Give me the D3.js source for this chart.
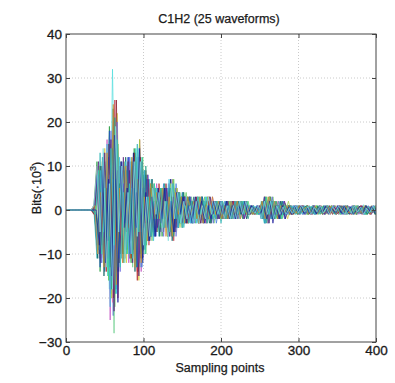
<!DOCTYPE html>
<html>
<head>
<meta charset="utf-8">
<script src="https://cdn.jsdelivr.net/npm/d3@7"></script>
<style>
  body { margin: 0; background: #fff; }
  svg { display: block; font-family: "Liberation Sans", Arial, sans-serif; }
</style>
</head>
<body>
<svg id="chart" width="395" height="383"></svg>
<script>
// tick labels
const xTicks = [0, 100, 200, 300, 400];
const yTicks = [-30, -20, -10, 0, 10, 20, 30, 40];

// one value every 4 sampling points (units of 10^3 bits)
const sampleStep = 4;
const waveforms = [
  [0,0,0,0,0,0,0,0,0, 1,-8,6,-12,9,-18,32,-10,11,-6, 9,-4,12,-10,7,-13,8,-3,6,-5, 2,-4,5,-3,6,-2,4,-3,2,-3, 3,-1,2,-3,1,-2,3,-1,2,-1, 2,-1,1,-2,2,-1,1,-2,1,-1, 1,-0.5,0.8,-1,2,-3,1,-2,2,-1, 1.5,-1,0.5,-1.2,0.8,-0.6,1,-0.4,0.8,-1, 0.6,-0.8,1,-0.3,0.7,0,0.9,-1,0.5,-0.7, 1,-0.4,0.2,0.8,-1,0.6,-0.5,1.2,-0.8,0.4, -0.6,0],
  [0,0,0,0,0,0,0,0,0, -1,10,-5,13,-8,15,-24,9,-12,4, -6,12,-7,13,-10,5,-8,4,-6,2, -4,3,-5,2,-6,7,-2,4,-1,3, -2,3,-1,3,-2,1,-3,2,-1,2, -2,1,-2,2,-1,2,-1,0.5,-2,1, -1,0.6,-1,0.4,-2,2,-3,1,-2,1, -1,2,-0.5,1,-0.8,1,-1,0.4,-1,0.7, -0.4,1,-0.8,0.5,-1,0.8,-0.3,1,0,-0.6, 0.9,-1,0.5,-0.7,1,-0.4,0.6,-1,0.8,-0.5, 1,0],
  [0,0,0,0,0,0,0,0,0, 0,6,-11,8,-13,11,-28,17,-5,10, -9,5,-13,8,-13,6,-9,6,-3,6, -5,2,-5,4,-3,6,-5,2,-4,3, -1,3,-2,1,-3,2,-1,3,-2,1, -2,2,-1,2,-2,1,-1,2,-1,1, -0.5,1,-1,0.6,-1,2,-3,2,-1,2, -2,1,-1,0.4,-1,1,-0.6,0,1,-0.8, 0.5,-1,1,-0.6,0.8,-0.4,1,-0.9,0.3,-1, 0,0.7,-1,1,-0.5,0.8,-1,0.4,-0.6,1, -0.8,0.5],
  [0,0,0,0,0,0,0,0,0, -1,-7,11,-6,15,-9,25,-20,8,-11, 6,-9,4,-12,16,-5,9,-8,3,-6, 5,-2,4,-6,3,-7,5,-1,3,-2, 3,-2,1,-3,2,-1,3,-3,1,-2, 1,-2,1,-1,2,-2,1,-1,2,-1, 1,-0.6,0.7,-1,1,-2,3,-2,1,-2, 1,-2,0.6,-1,1,-0.5,0.8,-1,0.4,-0.7, 1,-0.5,0.6,-1,0,0.8,-0.6,1,-0.3,0.7, -1,0.5,-0.8,1,-0.4,0.9,-1,0.6,-0.5,1, -0.7,0],
  [0,0,0,0,0,0,0,0,0, 1,11,-14,5,-12,19,-7,18,-12,4, -11,3,-12,14,-6,11,-9,3,-6,6, -2,4,-6,3,-5,2,-4,4,-1,4, -3,1,-3,2,-1,3,-2,1,-2,2, -1,2,-2,1,-2,0.5,-1,2,-2,1, -1,0.5,-0.8,1,-2,1,-2,3,-1,1, -2,0.6,-1,1,-0.4,1,-0.8,0.6,0,-1, 0.8,-0.6,1,-1,0.4,-0.8,1,-0.3,0.6,-1, 0.5,-1,0.8,-0.4,1,0,-0.9,0.6,-1,0.7, -0.5,1],
  [0,0,0,0,0,0,0,0,0, 0,-9,4,-11,16,-25,9,-16,10,-5, 10,-12,5,-9,12,-14,4,-7,6,-2, 6,-5,2,-4,6,-3,5,-4,1,-3, 2,-3,1,-2,3,-3,1,-2,3,-1, 2,-1,2,-2,1,-2,0.5,-2,1,-2, 0.6,-1,0.4,-1,1,-3,1,-2,2,-1, 2,-1,0.5,-1,1,-0.6,1,-1,0.4,-0.8, 0,1,-0.6,0.8,-1,0.4,-0.7,1,-0.5,0.6, -1,0.8,-0.3,1,-0.7,0.5,-1,0,0.9,-0.6, 1,-0.5],
  [0,0,0,0,0,0,0,0,0, 1,8,-10,14,-5,15,-18,22,-6,9, -12,5,-10,12,-16,9,-3,7,-5,2, -4,5,-2,4,-5,7,-1,4,-4,2, -3,2,-2,3,-1,2,-3,1,-2,2, -1,2,-2,1,-2,2,-1,2,-0.5,1, -1,0.4,-0.7,1,-1,3,-2,1,-1,2, -1,1,-2,0.6,-1,0.8,-0.4,1,-1,0.5, -0.8,1,-0.5,0,0.7,-1,0.9,-0.4,1,-0.8, 0.4,-1,0.7,-0.6,1,-0.9,0.3,-1,0.8,-0.4, 0,0.8],
  [0,0,0,0,0,0,0,0,0, -1,-10,9,-4,12,-17,11,-14,5,-9, 9,-3,13,-11,6,-12,8,-2,7,-5, 1,-5,5,-2,7,-5,2,-3,4,-1, 3,-2,1,-3,3,-1,2,-3,1,-2, 2,-1,1,-2,2,-1,2,-1,1,-1, 0.8,-1,0.5,-0.8,2,-1,3,-2,1,-2, 2,-1,1,-0.4,0.8,-1,0.6,-0.8,1,-0.3, 1,-0.7,0.4,-1,0.8,-0.5,1,-0.6,0.7,0, -0.8,1,-0.5,0.6,-1,0.8,-0.4,1,-0.7,0.5, -1,0.6],
  [0,0,0,0,0,0,0,0,0, 0,-11,13,-9,11,-16,14,-19,4,-11, 4,-9,11,-5,15,-10,3,-8,7,-3, 5,-6,1,-4,5,-6,2,-4,3,-4, 1,-3,2,-1,3,-2,1,-2,2,-1, 2,-3,1,-2,1,-2,2,-1,2,-1, 1,-0.7,0.5,-1,1,-3,2,-1,2,-0.5, 2,-1,0.8,-1,0.5,-1,0.7,-0.4,1,-0.8, 0.6,-1,0.3,-0.8,1,-0.5,0,0.9,-0.7,1, -0.6,0.4,-1,0.8,-0.5,1,-0.3,0.7,-1,0.6, -0.4,0.8],
  [0,0,0,0,0,0,0,0,0, 1,7,-12,11,-6,14,-20,25,-11,5, -9,11,-4,13,-14,4,-7,8,-2,5, -5,1,-5,6,-2,5,-5,3,-1,3, -3,2,-1,2,-3,1,-2,3,-1,2, -1,2,-1,2,-2,1,-2,1,-1,2, -0.6,1,-0.8,0.5,-1,3,-1,2,-2,1, -1,1,-0.6,1,-1,0.4,-0.8,1,-0.5,0.7, -1,0.6,-0.4,1,-0.8,0.5,-1,0.3,-0.6,1, -0.9,0,0.8,-1,0.5,-0.7,1,-0.4,0.6,-1, 0.7,-0.3],
  [0,0,0,0,0,0,0,0,0, -1,-9,8,-14,6,-19,16,-7,10,-12, 5,-11,10,-4,12,-13,5,-7,2,-6, 5,-2,6,-4,2,-5,6,-1,4,-3, 1,-3,2,-2,1,-3,3,-1,2,-3, 1,-2,2,-1,2,-2,1,-1,2,-1, 1,-0.5,1,-0.6,0.8,-2,3,-1,2,-2, 0.6,-2,1,-0.5,1,-0.8,0.4,-1,0.7,-0.5, 1,0,-0.8,0.6,-1,0.4,-0.7,1,-0.5,0.8, -1,0.6,-0.4,1,-0.8,0.3,0,-1,0.7,-0.6, 0.9,-0.7],
  [0,0,0,0,0,0,0,0,0, 0,10,-6,9,-16,7,-22,15,-4,11, -10,4,-9,11,-5,12,-10,3,-7,5, -2,5,-4,1,-5,7,-3,4,-1,4, -2,1,-3,3,-1,3,-2,1,-3,2, -2,1,-2,2,-1,1,-2,2,-1,2, -1,0.5,-1,0.7,-2,3,-1,3,-2,1, -2,1.5,-0.6,1,-0.5,1,-0.8,0.6,-1,0.4, -0.7,1,-0.4,0.8,-1,0.6,-0.5,1,-0.8,0.3, 0,-1,0.6,-0.7,1,-0.5,0.8,-1,0.4,-0.6, 1,0],
  [0,0,0,0,0,0,0,0,0, 1,9,-4,12,-13,8,-21,16,-11,3, -11,10,-5,10,-14,4,-8,6,-2,6, -5,3,-5,1,-6,6,-2,4,-3,1, -3,3,-1,2,-3,1,-3,3,-1,2, -2,1,-1,2,-2,2,-1,2,-1,1, -1,0.8,-0.5,1,-1,2,-3,1,-2,2, -1,0.6,-1,1,-0.4,0.8,-1,0.5,-0.7,1, -0.5,0.9,-1,0.4,0,-0.8,1,-0.6,0.7,-1, 0.8,-0.5,1,-0.7,0.4,-1,0.6,-0.3,0,0.9, -0.6,1],
  [0,0,0,0,0,0,0,0,0, -1,-11,10,-15,5,-13,23,-18,6,-10, 12,-3,11,-14,6,-11,9,-3,5,-6, 2,-6,5,-2,5,-7,1,-4,3,-2, 3,-1,3,-2,1,-3,2,-3,1,-2, 1,-2,1,-2,2,-1,2,-1,2,-2, 0.7,-1,0.5,-1,2,-3,1,-2,1,-2, 2,-1,0.7,-1,0.5,-0.8,1,-0.4,0.9,-1, 0.6,-1,0.8,-0.5,1,-0.7,0.3,0,-1,0.8, -0.5,1,-0.9,0.4,-0.6,1,-0.8,0.5,-1,0.7, 0,-0.9],
  [0,0,0,0,0,0,0,0,0, 0,8,-12,5,-11,18,-9,20,-14,6, -9,12,-6,12,-12,5,-9,8,-3,5, -4,2,-6,5,-2,6,-6,1,-4,3, -2,1,-3,3,-1,2,-2,1,-3,2, -1,2,-2,1,-1,2,-2,1,-2,1, -0.8,1,-0.6,1,-2,1,-2,3,-1,2, -1,0.5,-1,0.8,-0.6,1,-0.5,1,-0.8,0, 0.7,-1,0.5,-0.6,1,-0.9,0.4,-0.8,1,-0.5, 0.6,-1,0.9,-0.4,0.7,-1,0.5,-0.6,1,-0.8, 0.4,-1],
  [0,0,0,0,0,0,0,0,0, 1,-8,11,-11,6,-20,18,-7,11,-12, 4,-11,12,-6,16,-10,4,-7,6,-2, 5,-4,2,-6,6,-2,5,-4,1,-3, 2,-2,1,-3,3,-1,3,-2,1,-2, 2,-1,2,-2,1,-2,1,-1,2,-1, 0.5,-1,0.8,-0.6,2,-2,3,-1,2,-2, 1,-0.6,2,-1,0.5,-1,0.8,-0.7,1,-0.4, 1,-0.6,0.8,-1,0.3,-0.7,1,-0.5,0.6,-1, 0,0.8,-0.6,1,-1,0.4,-0.7,1,-0.5,0.6, -1,0.7],
  [0,0,0,0,0,0,0,0,0, -1,10,-11,4,-14,15,-8,14,-12,9, -4,11,-11,5,-16,12,-3,7,-7,2, -5,6,-1,5,-5,3,-5,4,-1,3, -3,1,-2,3,-3,1,-2,2,-1,2, -2,1,-2,2,-1,2,-2,1,-1,2, -1,0.4,-1,0.8,-1,3,-2,1,-2,1, -2,1,-0.5,1,-1,0.7,-0.6,1,-0.4,1, -1,0.5,-0.8,1,-0.6,0,0.9,-1,0.4,-0.7, 1,-0.6,0.5,-1,0.8,-0.4,1,-0.7,0.6,-1, 0.8,0],
  [0,0,0,0,0,0,0,0,0, 0,-10,9,-5,15,-22,7,-19,12,-4, 11,-10,5,-11,14,-5,9,-6,2,-7, 5,-2,5,-4,7,-2,4,-4,1,-3, 2,-3,1,-3,2,-1,3,-2,1,-2, 2,-1,2,-1,2,-1,1,-2,2,-1, 1,-0.6,0.8,-1,1,-3,1,-2,2,-1, 1,-0.8,1,-0.5,1,-1,0.6,-1,0.7,-0.4, 0.9,-1,0,0.8,-0.6,1,-0.4,0.7,-1,0.5, -0.8,1,-0.5,0.6,-1,0.9,-0.4,0.8,-0.6,0, 1,-0.8],
  [0,0,0,0,0,0,0,0,0, 1,11,-8,13,-7,16,-23,9,-10,12, -5,9,-12,4,-15,11,-3,7,-6,2, -4,5,-2,5,-6,3,-4,4,-3,1, -3,2,-1,2,-3,1,-3,3,-1,2, -2,1,-2,1,-2,2,-1,2,-2,1, -1,0.7,-0.5,1,-2,1,-3,2,-1,1, -1,2,-0.6,1,-0.8,0.5,-1,1,-0.5,0.8, -1,0.6,-0.8,0.4,-1,1,-0.5,0.7,-0.9,1, -0.6,0.8,-1,0,0.7,-0.5,1,-0.8,0.4,-1, 0.6,-0.5],
  [0,0,0,0,0,0,0,0,0, -1,-9,12,-10,5,-18,21,-13,6,-10, 9,-5,10,-13,4,-9,10,-3,7,-5, 2,-4,6,-2,5,-6,2,-3,4,-1, 3,-3,1,-2,3,-2,1,-3,2,-1, 2,-1,2,-2,1,-2,2,-1,1,-2, 1,-0.8,0.6,-1,2,-3,1,-2,2,-1, 2,-1,1,-0.6,0.8,-1,0.5,-0.7,1,-0.5, 0.7,-1,0.5,-0.8,1,-0.4,0.6,-1,0,0.9, -0.7,1,-0.5,0.8,-1,0.6,-0.3,1,-0.8,0.5, -1,0.7],
  [0,0,0,0,0,0,0,0,0, 0,8,-13,12,-5,18,-16,7,-11,11, -3,12,-10,5,-13,10,-4,7,-7,2, -6,4,-2,5,-6,2,-5,4,-1,3, -1,3,-3,2,-1,3,-2,1,-2,2, -2,2,-1,2,-2,1,-2,2,-1,2, -0.5,1,-0.7,0.6,-2,3,-1,2,-2,1, -2,0.8,-1,0.5,-1,1,-0.6,0.8,-1,0.4, -0.6,1,-0.9,0.5,-0.7,1,-0.4,0.8,-1,0.6, -1,0.4,0,-0.8,1,-0.6,0.7,-1,0.5,-0.4, 0.9,-0.6],
  [0,0,0,0,0,0,0,0,0, 1,-10,4,-13,13,-6,24,-17,5,-12, 10,-4,12,-13,7,-12,3,-7,6,-2, 4,-2,5,-6,3,-6,4,-1,3,-3, 3,-1,2,-2,3,-3,1,-2,3,-1, 2,-2,1,-2,2,-1,2,-2,1,-1, 0.8,-1,0.5,-0.7,2,-2,3,-1,2,-2, 1,-0.7,1,-1,0.4,-0.8,1,-0.5,0.7,-1, 0,0.8,-1,0.5,-0.6,1,-0.8,0.4,-1,0.6, -0.5,1,-0.7,0.4,-1,0.8,-0.6,1,0,-0.9, 0.6,0],
  [0,0,0,0,0,0,0,0,0, -1,9,-10,5,-15,14,-8,16,-13,4, -10,6,-11,14,-5,12,-10,3,-6,6, -2,5,-4,2,-5,6,-2,4,-4,1, -3,2,-2,3,-1,2,-3,1,-2,2, -1,2,-2,1,-2,2,-1,2,-1,2, -0.6,1,-1,0.5,-2,3,-1,2,-2,1, -2,1,-0.5,1,-0.7,0.6,-1,0.8,-0.4,1, -0.8,0.5,-1,0.7,-0.4,1,0,-0.8,0.6,-1, 1,-0.7,0.5,-1,0.8,-0.4,0.6,-1,0.9,-0.5, 0.7,-1],
  [0,0,0,0,0,0,0,0,0, 0,-8,10,-12,7,-15,17,-21,11,-4, 5,-10,12,-4,14,-11,4,-7,3,-6, 5,-3,5,-4,2,-5,4,-1,3,-3, 1,-3,3,-1,2,-3,1,-2,2,-1, 2,-1,2,-2,1,-2,1,-1,2,-1, 1,-0.5,1,-0.8,1,-2,2,-3,1,-2, 1,-2,0.6,-1,0.8,-0.4,1,-0.7,0.5,-1, 0.6,-0.9,1,-0.5,0.8,-1,0.4,-0.6,1,-0.7, 1,-0.5,0.7,-1,0,0.8,-0.6,1,-0.4,0.9, -0.8,0.5],
  [0,0,0,0,0,0,0,0,0, 1,10,-5,14,-13,6,-18,19,-5,10, -12,4,-10,11,-6,11,-8,3,-6,5, -1,4,-5,2,-7,6,-2,4,-3,2, -2,1,-3,2,-3,1,-2,3,-1,2, -1,2,-2,1,-2,1,-2,2,-1,2, -1,0.6,-0.8,1,-2,2,-1,2,-2,1, -1,0.7,-1,0.4,-0.8,1,-0.6,1,-0.5,0.8, -1,0.6,-0.4,1,-0.7,0.5,-1,0.8,-0.3,0.9, 0,-1,0.6,-0.8,1,-0.5,0.7,-1,0.4,-0.6, 1,-0.7]
];

const colors = ['#4fdede', '#2a3fd8', '#6fcf8f', '#c23a4a', '#1f9a3a', '#c04fc0', '#d8c83a', '#101070',
  '#2cb5b5', '#8a1a2a', '#3a7ad8', '#5ac85a', '#e070b0', '#0d5f5f', '#7070e0', '#a0d040',
  '#b02020', '#40c0e0', '#602080', '#20a080', '#2050c0', '#d09030', '#30d0b0', '#1a1a9a', '#80e0e0'];

const margin = { top: 34, right: 19, bottom: 41, left: 66 };
const width = 395 - margin.left - margin.right;
const height = 383 - margin.top - margin.bottom;

const svg = d3.select('#chart');
const g = svg.append('g')
  .attr('transform', 'translate(' + margin.left + ',' + margin.top + ')');

const x = d3.scaleLinear().domain([0, 400]).range([0, width]);
const y = d3.scaleLinear().domain([-30, 40]).range([height, 0]);

// dotted grid
g.append('g').selectAll('line')
  .data(xTicks.slice(1, -1))
  .enter().append('line')
  .attr('x1', d => x(d)).attr('x2', d => x(d))
  .attr('y1', 0).attr('y2', height)
  .attr('stroke', '#bdbdbd').attr('stroke-width', 0.8).attr('stroke-dasharray', '1,2');

g.append('g').selectAll('line')
  .data(yTicks.slice(1, -1))
  .enter().append('line')
  .attr('x1', 0).attr('x2', width)
  .attr('y1', d => y(d)).attr('y2', d => y(d))
  .attr('stroke', '#bdbdbd').attr('stroke-width', 0.8).attr('stroke-dasharray', '1,2');

g.append('clipPath').attr('id', 'clip')
  .append('rect').attr('width', width).attr('height', height);

const line = d3.line()
  .x(d => x(d[0]))
  .y(d => y(d[1]));

g.append('g').attr('clip-path', 'url(#clip)')
  .selectAll('path')
  .data(waveforms)
  .enter().append('path')
  .attr('d', (w, i) => line(w.map((v, j) => [Math.min(400, (i % sampleStep) + j * sampleStep), v])))
  .attr('fill', 'none')
  .attr('stroke', (w, i) => colors[i % colors.length])
  .attr('stroke-width', 0.8)
  .attr('stroke-opacity', 0.9);

// axes, ticks pointing inward like matlab
g.append('g')
  .attr('transform', 'translate(0,' + height + ')')
  .call(d3.axisBottom(x).tickValues(xTicks).tickSizeInner(-4).tickSizeOuter(0).tickPadding(3));
g.append('g')
  .call(d3.axisLeft(y).tickValues(yTicks).tickSizeInner(-4).tickSizeOuter(0).tickPadding(4));
g.append('g')
  .call(d3.axisTop(x).tickValues(xTicks).tickSizeInner(-4).tickSizeOuter(0).tickFormat(''));
g.append('g')
  .attr('transform', 'translate(' + width + ',0)')
  .call(d3.axisRight(y).tickValues(yTicks).tickSizeInner(-4).tickSizeOuter(0).tickFormat(''));

g.selectAll('.domain').remove();
g.selectAll('.tick line').attr('stroke', '#444');
g.selectAll('.tick text')
  .attr('fill', '#1a1a1a')
  .attr('stroke', '#1a1a1a').attr('stroke-width', 0.3)
  .style('font-size', '13.5px')
  .style('font-family', '"Liberation Sans", Arial, sans-serif');

g.append('rect')
  .attr('width', width).attr('height', height)
  .attr('fill', 'none').attr('stroke', '#444').attr('stroke-width', 1);

// title and labels
svg.append('text')
  .attr('x', margin.left + width / 2 - 2)
  .attr('y', 23)
  .attr('text-anchor', 'middle')
  .style('font-size', '12.5px')
  .attr('fill', '#1a1a1a').attr('stroke', '#1a1a1a').attr('stroke-width', 0.25)
  .text('C1H2 (25 waveforms)');

svg.append('text')
  .attr('x', margin.left + width / 2 - 1)
  .attr('y', 372)
  .attr('text-anchor', 'middle')
  .style('font-size', '12.5px')
  .attr('fill', '#1a1a1a').attr('stroke', '#1a1a1a').attr('stroke-width', 0.25)
  .text('Sampling points');

const yLabel = svg.append('text')
  .attr('transform', 'translate(41,' + (margin.top + height / 2) + ') rotate(-90)')
  .attr('text-anchor', 'middle')
  .style('font-size', '12.5px')
  .attr('fill', '#1a1a1a').attr('stroke', '#1a1a1a').attr('stroke-width', 0.25);
yLabel.append('tspan').text('Bits(·10');
yLabel.append('tspan').attr('dy', -5).style('font-size', '9px').text('3');
yLabel.append('tspan').attr('dy', 5).text(')');
</script>
</body>
</html>
